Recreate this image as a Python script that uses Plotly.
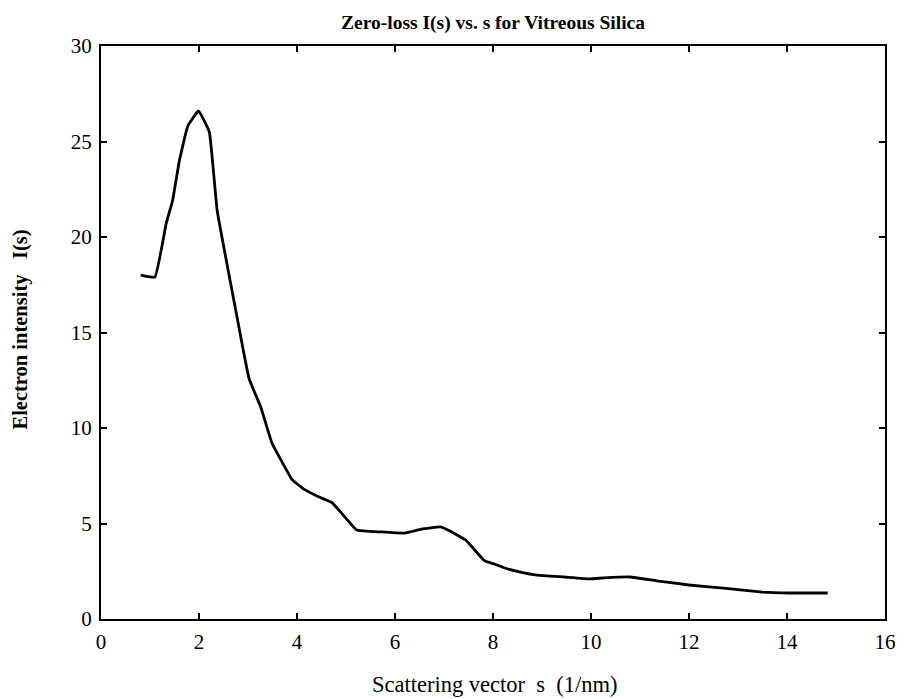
import plotly.graph_objects as go

# Zero-loss electron intensity profile for vitreous silica
s_values = [0.81, 1.1, 1.33, 1.46, 1.6, 1.77, 1.99, 2.21, 2.37, 2.74, 3.02, 3.26,
            3.49, 3.7, 3.9, 4.14, 4.44, 4.71, 4.89, 5.22, 5.72, 6.2, 6.54, 6.92,
            7.08, 7.44, 7.83, 8.03, 8.24, 8.56, 8.9, 9.45, 9.98, 10.26, 10.8,
            11.34, 12.0, 12.7, 13.5, 14.04, 14.83]
intensity = [18.0, 17.9, 20.7, 21.9, 24.0, 25.8, 26.6, 25.5, 21.4, 16.3, 12.6, 11.1,
             9.2, 8.2, 7.3, 6.8, 6.4, 6.1, 5.6, 4.66, 4.56, 4.5, 4.7, 4.82,
             4.66, 4.14, 3.04, 2.88, 2.67, 2.46, 2.3, 2.2, 2.1, 2.15, 2.2,
             2.0, 1.78, 1.62, 1.41, 1.36, 1.36]

x_ticks = [0, 2, 4, 6, 8, 10, 12, 14, 16]
y_ticks = [0, 5, 10, 15, 20, 25, 30]

serif = "Liberation Serif, Times New Roman, serif"
nb = "\u00a0"

fig = go.Figure(
    go.Scatter(
        x=s_values, y=intensity, mode="lines",
        line=dict(color="black", width=2.8, shape="spline", smoothing=0.3),
        showlegend=False,
    )
)

axis_common = dict(
    showline=True, linecolor="black", linewidth=2, mirror="ticks",
    ticks="inside", ticklen=6, tickwidth=1.5, tickcolor="black",
    showgrid=False, zeroline=False, ticklabelstandoff=3,
    tickfont=dict(family=serif, size=21, color="black"),
)

fig.update_layout(
    width=908, height=699,
    margin=dict(l=101, r=18, t=46, b=80),
    paper_bgcolor="white", plot_bgcolor="white",
    title=dict(
        text="<b>Zero-loss I(s) vs. s for Vitreous Silica</b>",
        x=0.543, xanchor="center", y=0.9685, yanchor="middle",
        font=dict(family=serif, size=19.5, color="black"),
    ),
    xaxis=dict(range=[0, 16], tickvals=x_ticks, **axis_common),
    yaxis=dict(range=[0, 30], tickvals=y_ticks, **axis_common),
    annotations=[
        dict(
            text=f"Scattering vector{nb}{nb}s{nb}{nb}(1/nm)",
            xref="paper", yref="paper", x=0.502, y=-0.115,
            xanchor="center", yanchor="middle", showarrow=False,
            font=dict(family=serif, size=22.5, color="black"),
        ),
        dict(
            text=f"<b>Electron intensity{nb}{nb}{nb}I(s)</b>",
            xref="paper", yref="paper", x=-0.1027, y=0.506,
            xanchor="center", yanchor="middle", showarrow=False, textangle=-90,
            font=dict(family=serif, size=20.5, color="black"),
        ),
    ],
)

fig.write_html("out.html")
